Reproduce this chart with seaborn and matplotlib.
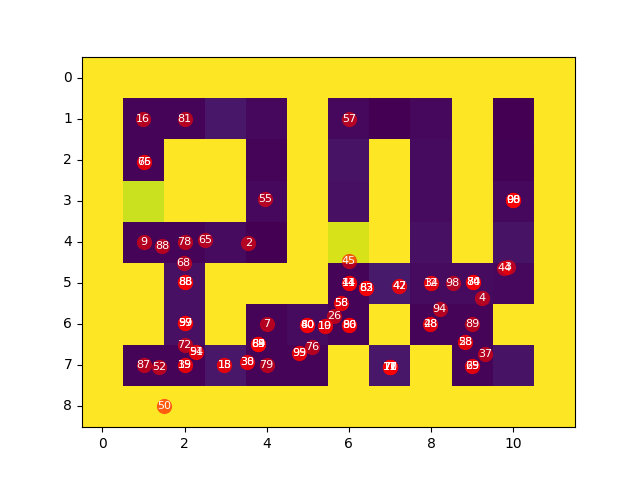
import numpy as np
import matplotlib
matplotlib.use("Agg")
import matplotlib.pyplot as plt
import seaborn as sns

row0 = [1, 1, 1, 1, 1, 1, 1, 1, 1, 1, 1, 1]
row1 = [1, .01, .01, .06, .02, 1, .02, 0, .02, 1, 0, 1]
row2 = [1, .01, 1, 1, .01, 1, .05, 1, .03, 1, .005, 1]
row3 = [1, .92, 1, 1, .02, 1, .04, 1, .03, 1, .02, 1]
row4 = [1, .01, .01, .03, 0, 1, .94, 1, .04, 1, .05, 1]
row5 = [1, 1, .04, 1, 1, 1, .01, .07, .03, .03, .02, 1]
row6 = [1, 1, .04, 1, .01, .03, .01, 1, .01, .01, 1, 1]
row7 = [1, .01, .01, .06, .01, .01, 1, .06, 1, .01, .05, 1]
row8 = [1, 1, 1, 1, 1, 1, 1, 1, 1, 1, 1, 1]
grid = [row0, row1, row2, row3, row4, row5, row6, row7, row8]

labels = ["16", "81", "75", "66", "55", "9", "88", "78", "65", "2", "68", "57",
          "90", "08", "98", "00", "45", "3", "44", "88", "83", "86", "97", "59", "99",
          "72", "94", "51", "87", "52", "35", "19", "15", "18", "30", "38",
          "84", "69", "63", "89", "7", "79", "60", "80", "40", "10", "19", "95", "99",
          "76", "50", "11", "44", "14", "82", "63", "83", "42", "47", "12", "34", "98",
          "80", "74", "84", "4", "94", "28", "48", "89", "58", "28", "37", "65", "29",
          "71", "11", "77", "17", "70", "58", "56", "26", "90", "86", "80"]
xs = [.99, 2.0, 1.02, 1.02, 3.97, 1.0, 1.45, 2.0, 2.5, 3.55, 1.98, 6.0,
      10.0, 10.0, 10.0, 10.0, 6.0, 9.87, 9.78, 2.02, 2.02, 2.02, 2.02, 2.02, 2.02,
      2.0, 2.28, 2.28, 1.0, 1.38, 2.0, 2.0, 2.97, 2.97, 3.53, 3.53,
      3.8, 3.8, 3.8, 3.8, 4.0, 4.0, 4.99, 4.99, 4.99, 5.42, 5.42, 4.79, 4.79,
      5.11, 1.5, 6.0, 6.0, 6.0, 6.42, 6.42, 6.42, 7.23, 7.23, 8.0, 8.0, 8.53,
      9.03, 9.03, 9.03, 9.25, 8.21, 7.98, 7.98, 9.0, 8.83, 8.83, 9.32, 9.0, 9.0,
      7.0, 7.0, 7.0, 7.0, 7.0, 5.81, 5.81, 5.64, 6.0, 6.0, 6.0]
ys = [1.0, 1.0, 2.05, 2.05, 2.95, 4.0, 4.09, 4.0, 3.95, 4.03, 4.52, 1.0,
      2.98, 2.98, 2.98, 2.98, 4.45, 4.6, 4.64, 4.98, 4.98, 4.98, 5.97, 5.97, 5.97,
      6.5, 6.68, 6.68, 7.0, 7.03, 7.0, 7.0, 7.0, 7.0, 6.92, 6.92,
      6.49, 6.49, 6.49, 6.49, 6.0, 7.0, 6.03, 6.03, 6.03, 6.05, 6.05, 6.7, 6.7,
      6.56, 7.98, 5.0, 5.0, 5.0, 5.12, 5.12, 5.12, 5.08, 5.08, 5.0, 5.0, 5.0,
      4.98, 4.98, 4.98, 5.37, 5.64, 6.0, 6.0, 6.0, 6.44, 6.44, 6.73, 7.02, 7.02,
      7.05, 7.05, 7.05, 7.05, 7.05, 5.49, 5.49, 5.8, 6.02, 6.02, 6.02]

fig, ax = plt.subplots(figsize=(6.4, 4.8), dpi=100)
fig.subplots_adjust(left=0.125 + 0.3 / 640, right=0.9 + 0.3 / 640,
                    bottom=0.11 + 0.3 / 480, top=0.88 + 0.3 / 480)
sns.heatmap(np.array(grid), ax=ax, cmap="viridis", vmin=0, vmax=1, cbar=False,
            square=True, linewidths=0)
for s in ax.spines.values():
    s.set_visible(True)
    s.set_linewidth(0.8)

cx = np.array(xs) + 0.5
cy = np.array(ys) + 0.5
sns.scatterplot(x=cx, y=cy, ax=ax, color="red", alpha=0.6, s=120, linewidth=0, zorder=3)
for x, y, t in zip(cx, cy, labels):
    ax.text(x, y, t, color="white", fontsize=8, ha="center", va="center", zorder=4)

ax.set_xticks(np.arange(0, 11, 2) + 0.5, labels=[str(i) for i in range(0, 11, 2)])
ax.set_yticks(np.arange(9) + 0.5, labels=[str(i) for i in range(9)], rotation=0)
ax.tick_params(axis="both", length=3.5, width=0.8, labelsize=10)
ax.set_xlim(0, 12)
ax.set_ylim(9, 0)
fig.savefig("out.png", dpi=100)
